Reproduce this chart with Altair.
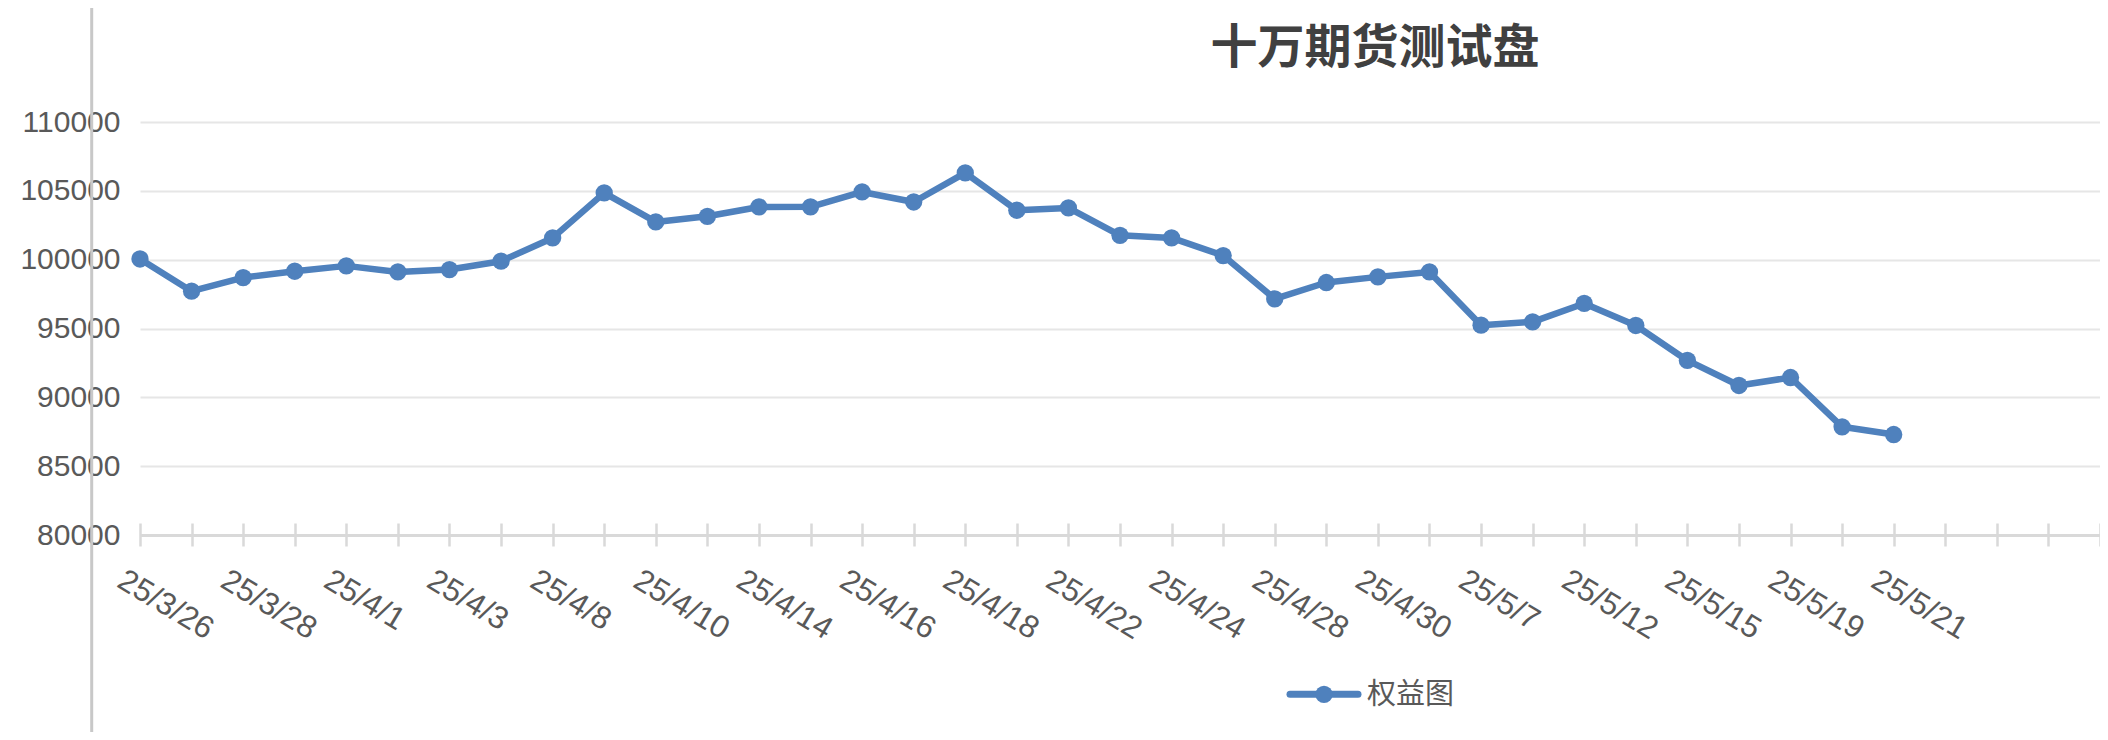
import altair as alt
import pandas as pd

# ---------------- data ----------------
dates = ["25/3/26", "25/3/27", "25/3/28", "25/3/31", "25/4/1", "25/4/2", "25/4/3",
         "25/4/7", "25/4/8", "25/4/9", "25/4/10", "25/4/11", "25/4/14", "25/4/15",
         "25/4/16", "25/4/17", "25/4/18", "25/4/21", "25/4/22", "25/4/23", "25/4/24",
         "25/4/25", "25/4/28", "25/4/29", "25/4/30", "25/5/6", "25/5/7", "25/5/9",
         "25/5/12", "25/5/14", "25/5/15", "25/5/16", "25/5/19", "25/5/20", "25/5/21"]
equity = [100050, 97710, 98700, 99160, 99550, 99110, 99280, 99890, 101580, 104850,
          102740, 103150, 103830, 103840, 104920, 104190, 106300, 103590, 103760, 101770,
          101580, 100300, 97150, 98340, 98750, 99110, 95240, 95480, 96820, 95220,
          92680, 90860, 91440, 87860, 87300]
series_name = "权益图"
title_text = "十万期货测试盘"
y_ticks = [80000, 85000, 90000, 95000, 100000, 105000, 110000]
n_slots = 39  # category slots on the axis (35 dates + 4 empty ones)

# ---------------- style ----------------
BLUE = "#4f81bd"
LABEL = "#595959"
FONT = "Liberation Sans"
CJK = "Noto Sans CJK SC"

df = pd.DataFrame({"idx": list(range(len(dates))), "date": dates,
                   "value": equity, "series": series_name})
title_df = pd.DataFrame({"title": [title_text]})
leg_df = pd.DataFrame({"series": [series_name]})

label_arr = [dates[i] if (i < len(dates) and i % 2 == 0) else "" for i in range(n_slots)]
label_expr = "[" + ",".join("'%s'" % s for s in label_arr) + "][datum.value]"

x_enc = alt.X(
    "idx:Q",
    scale=alt.Scale(domain=[0, n_slots - 1], nice=False, zero=False),
    axis=alt.Axis(
        values=list(range(n_slots)), labelExpr=label_expr, title=None,
        grid=False, domain=False, ticks=True, tickSize=23, tickColor="#d9d9d9",
        tickWidth=2.5, offset=-12, labelAngle=31, labelAlign="left",
        labelBaseline="top", labelPadding=18, labelOffset=-12, labelFontSize=31.5,
        labelFont=FONT, labelColor=LABEL, labelOverlap=False, labelFlush=False,
    ),
)
y_enc = alt.Y(
    "value:Q",
    scale=alt.Scale(domain=[80000, 110000], nice=False, zero=False),
    axis=alt.Axis(
        values=y_ticks, format="d", title=None, domain=False, ticks=False,
        tickSize=0, labelPadding=20, labelFontSize=30, labelFont=FONT,
        labelColor=LABEL, grid=True,
        gridColor={"condition": {"test": "datum.value === 80000", "value": "#d9d9d9"},
                   "value": "#e6e6e6"},
        gridWidth={"condition": {"test": "datum.value === 80000", "value": 3},
                   "value": 2.2},
    ),
)

base = alt.Chart(df).encode(x=x_enc, y=y_enc)
line = base.mark_line(color=BLUE, strokeWidth=6.5, strokeJoin="round")
pts = base.mark_point(filled=True, color=BLUE, size=300, opacity=1)

left_rule = alt.Chart(title_df).mark_rule(color="#c8c8c8", strokeWidth=3).encode(
    x=alt.value(-48.3), y=alt.value(-122), y2=alt.value(610))

title_mark = alt.Chart(title_df).mark_text(
    font=CJK, fontSize=47, fontWeight="bold", color="#404040",
    align="center", baseline="alphabetic").encode(
    x=alt.value(1235), y=alt.value(-59), text="title:N")

leg_line = alt.Chart(leg_df).mark_rule(color=BLUE, strokeWidth=7, strokeCap="round").encode(
    x=alt.value(1150), x2=alt.value(1218), y=alt.value(572.3))
leg_pt = alt.Chart(leg_df).mark_point(filled=True, color=BLUE, size=300, opacity=1).encode(
    x=alt.value(1184), y=alt.value(572.3))
leg_txt = alt.Chart(leg_df).mark_text(
    font=CJK, fontSize=29, color=LABEL, align="left", baseline="alphabetic").encode(
    x=alt.value(1227), y=alt.value(582.4), text="series:N")

chart = alt.layer(left_rule, line, pts, title_mark, leg_line, leg_pt, leg_txt).properties(
    width=1960, height=413,
    autosize=alt.AutoSizeParams(type="none"),
    padding={"left": 132, "top": 114, "right": 0, "bottom": 197},
).configure_view(strokeWidth=0)

chart.save("out.html", embed_options={"renderer": "svg", "actions": False})
